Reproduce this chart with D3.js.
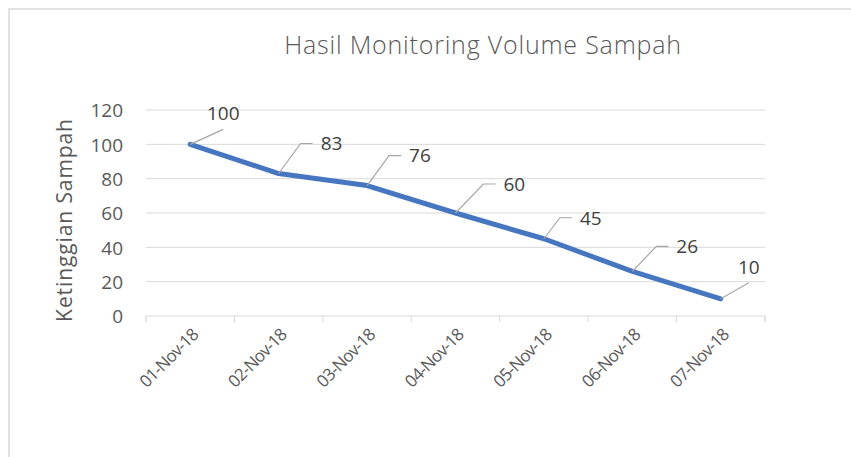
<!DOCTYPE html>
<html>
<head>
<meta charset="utf-8">
<script src="https://cdn.jsdelivr.net/npm/d3@7"></script>
<style>
  html, body { margin: 0; padding: 0; background: #fff; }
  svg { display: block; }
  text { font-family: "Open Sans", "Noto Sans", sans-serif; fill: #595959; }
</style>
</head>
<body>
<svg id="chart" width="851" height="457"></svg>
<script>
// ---- data ----
const categories = ["01-Nov-18", "02-Nov-18", "03-Nov-18", "04-Nov-18", "05-Nov-18", "06-Nov-18", "07-Nov-18"];
const volumes = [100, 83, 76, 60, 45, 26, 10];
const yTicks = [0, 20, 40, 60, 80, 100, 120];
const chartTitle = "Hasil Monitoring Volume Sampah";
const yAxisTitle = "Ketinggian Sampah";

// ---- layout (label leader-line offsets, in px: [dx, dy, horizontal tail, mode]) ----
const labelLayout = [
  [33, -15, 0, "above"],
  [22, -30, 12, "right"],
  [22, -30, 12, "right"],
  [28, -29, 12, "right"],
  [16, -21, 12, "right"],
  [24, -25, 12, "right"],
  [28, -16, 0, "above"]
];

const svg = d3.select("#chart");
const W = 851, H = 457;
const plot = { left: 146, right: 765, top: 110, bottom: 316 };

// chart border (only top & left visible in reference)
svg.append("rect")
  .attr("x", 9).attr("y", 9)
  .attr("width", W).attr("height", H)
  .attr("fill", "none").attr("stroke", "#d9d9d9").attr("stroke-width", 1.5);

const x = d3.scaleBand().domain(categories).range([plot.left, plot.right]).paddingInner(0).paddingOuter(0);
const y = d3.scaleLinear().domain([0, 120]).range([plot.bottom, plot.top]);

// gridlines
svg.append("g")
  .selectAll("line")
  .data(yTicks.filter(d => d > 0))
  .join("line")
  .attr("x1", plot.left).attr("x2", plot.right)
  .attr("y1", d => y(d)).attr("y2", d => y(d))
  .attr("stroke", "#d9d9d9").attr("stroke-width", 1);

// y-axis labels
const yAxis = d3.axisLeft(y).tickValues(yTicks).tickSize(0).tickPadding(0);
const gy = svg.append("g").attr("transform", `translate(${plot.left - 23},0)`).call(yAxis);
gy.select(".domain").remove();
gy.selectAll("text")
  .style("font-family", '"Open Sans", sans-serif')
  .style("font-size", "19px")
  .style("fill", "#595959")
  .attr("dy", "0.36em");

// x-axis
const xAxis = d3.axisBottom(x).tickSize(6).tickFormat("");
const gx = svg.append("g").attr("transform", `translate(0,${plot.bottom})`).call(xAxis);
gx.select(".domain").attr("stroke", "#d9d9d9").attr("d", `M${plot.left},6V0H${plot.right}V6`);
gx.selectAll(".tick").remove();
const boundaries = categories.map(c => x(c)).concat([plot.right]);
gx.selectAll("line.bt").data(boundaries).join("line")
  .attr("class", "bt")
  .attr("x1", d => d).attr("x2", d => d)
  .attr("y1", 0).attr("y2", 6)
  .attr("stroke", "#d9d9d9").attr("stroke-width", 1);

// rotated x labels
svg.append("g").selectAll("text")
  .data(categories)
  .join("text")
  .attr("text-anchor", "end")
  .attr("transform", d => `translate(${x(d) + x.bandwidth() / 2 + 9},${plot.bottom + 20}) rotate(-45)`)
  .style("font-size", "17px")
  .style("letter-spacing", "-0.8px")
  .text(d => d);

// line
const cx = (d, i) => x(categories[i]) + x.bandwidth() / 2;
const line = d3.line().x((d, i) => cx(d, i)).y(d => y(d));
svg.append("path")
  .datum(volumes)
  .attr("d", line)
  .attr("fill", "none")
  .attr("stroke", "#4676c0")
  .attr("stroke-width", 5)
  .attr("stroke-linejoin", "round")
  .attr("stroke-linecap", "round");

// leader lines + data labels
const lbl = svg.append("g");
volumes.forEach((v, i) => {
  const px = cx(v, i), py = y(v);
  const [dx, dy, tail, mode] = labelLayout[i];
  const ex = px + dx, ey = py + dy;
  lbl.append("path")
    .attr("d", `M${px},${py}L${ex},${ey}` + (tail ? `H${ex + tail}` : ""))
    .attr("fill", "none").attr("stroke", "#a6a6a6").attr("stroke-width", 1.2);
  const t = lbl.append("text").style("font-size", "19px").style("fill", "#404040").text(v);
  if (mode === "above") {
    t.attr("x", ex).attr("y", ey - 9).attr("text-anchor", "middle");
  } else {
    t.attr("x", ex + tail + 8).attr("y", ey).attr("dy", "0.36em").attr("text-anchor", "start");
  }
});

// titles
svg.append("text")
  .attr("x", 483).attr("y", 54)
  .attr("text-anchor", "middle")
  .style("font-size", "25px")
  .style("font-weight", 300)
  .style("letter-spacing", "0.8px")
  .text(chartTitle);

svg.append("text")
  .attr("transform", `translate(72,220) rotate(-90)`)
  .attr("text-anchor", "middle")
  .style("font-size", "21px")
  .style("letter-spacing", "0.9px")
  .text(yAxisTitle);
</script>
</body>
</html>
